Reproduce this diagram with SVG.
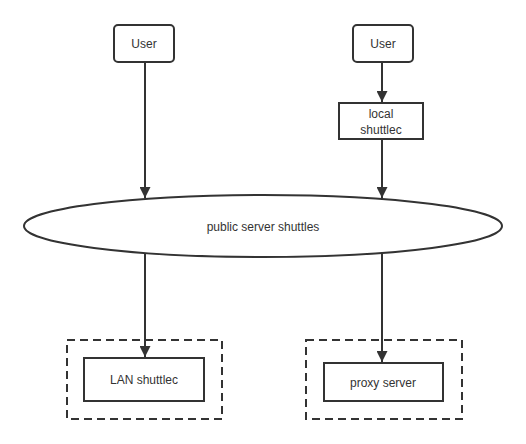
<svg xmlns="http://www.w3.org/2000/svg" width="526" height="444" viewBox="0 0 526 444">
<style>
.box{fill:#fff;stroke:#333;stroke-width:2}
.dash{fill:none;stroke:#333;stroke-width:2;stroke-dasharray:8 5}
.lbl{font-family:"Liberation Sans",Arial,sans-serif;font-size:12px;fill:#333;text-anchor:middle;dominant-baseline:central}
.edge{stroke:#333;stroke-width:2;fill:none}
</style>
<defs>
<marker id="arr" viewBox="0 0 10 10" refX="10" refY="5" markerWidth="5.5" markerHeight="5.5" markerUnits="strokeWidth" orient="auto">
<path d="M0,0 L10,5 L0,10 z" fill="#333"/>
</marker>
</defs>
<rect width="526" height="444" fill="#fff"/>
<g id="connectors">
<line class="edge" x1="145" y1="62" x2="145" y2="198" marker-end="url(#arr)"/>
<line class="edge" x1="382" y1="63" x2="382" y2="102" marker-end="url(#arr)"/>
<line class="edge" x1="382" y1="139" x2="382" y2="198" marker-end="url(#arr)"/>
<line class="edge" x1="145" y1="253" x2="145" y2="357" marker-end="url(#arr)"/>
<line class="edge" x1="382" y1="254" x2="382" y2="362" marker-end="url(#arr)"/>
</g>
<g id="user1">
<rect class="box" x="114" y="25" width="60" height="37" rx="4"/>
<text class="lbl" x="144" y="44">User</text>
</g>
<g id="user2">
<rect class="box" x="353" y="25" width="60" height="37" rx="4"/>
<text class="lbl" x="383" y="44">User</text>
</g>
<g id="local">
<rect class="box" x="339" y="103" width="84" height="36"/>
<text class="lbl" x="381" y="114">local</text>
<text class="lbl" x="381" y="130">shuttlec</text>
</g>
<g id="public">
<ellipse class="box" cx="263" cy="226" rx="239" ry="31"/>
<text class="lbl" x="263" y="227">public server shuttles</text>
</g>
<g id="lan">
<rect class="dash" x="67" y="340" width="155" height="79"/>
<rect class="box" x="84" y="358" width="120" height="43"/>
<text class="lbl" x="144" y="380">LAN shuttlec</text>
</g>
<g id="proxy">
<rect class="dash" x="306" y="340" width="156" height="79"/>
<rect class="box" x="324" y="363" width="119" height="38"/>
<text class="lbl" x="383" y="383">proxy server</text>
</g>
</svg>
